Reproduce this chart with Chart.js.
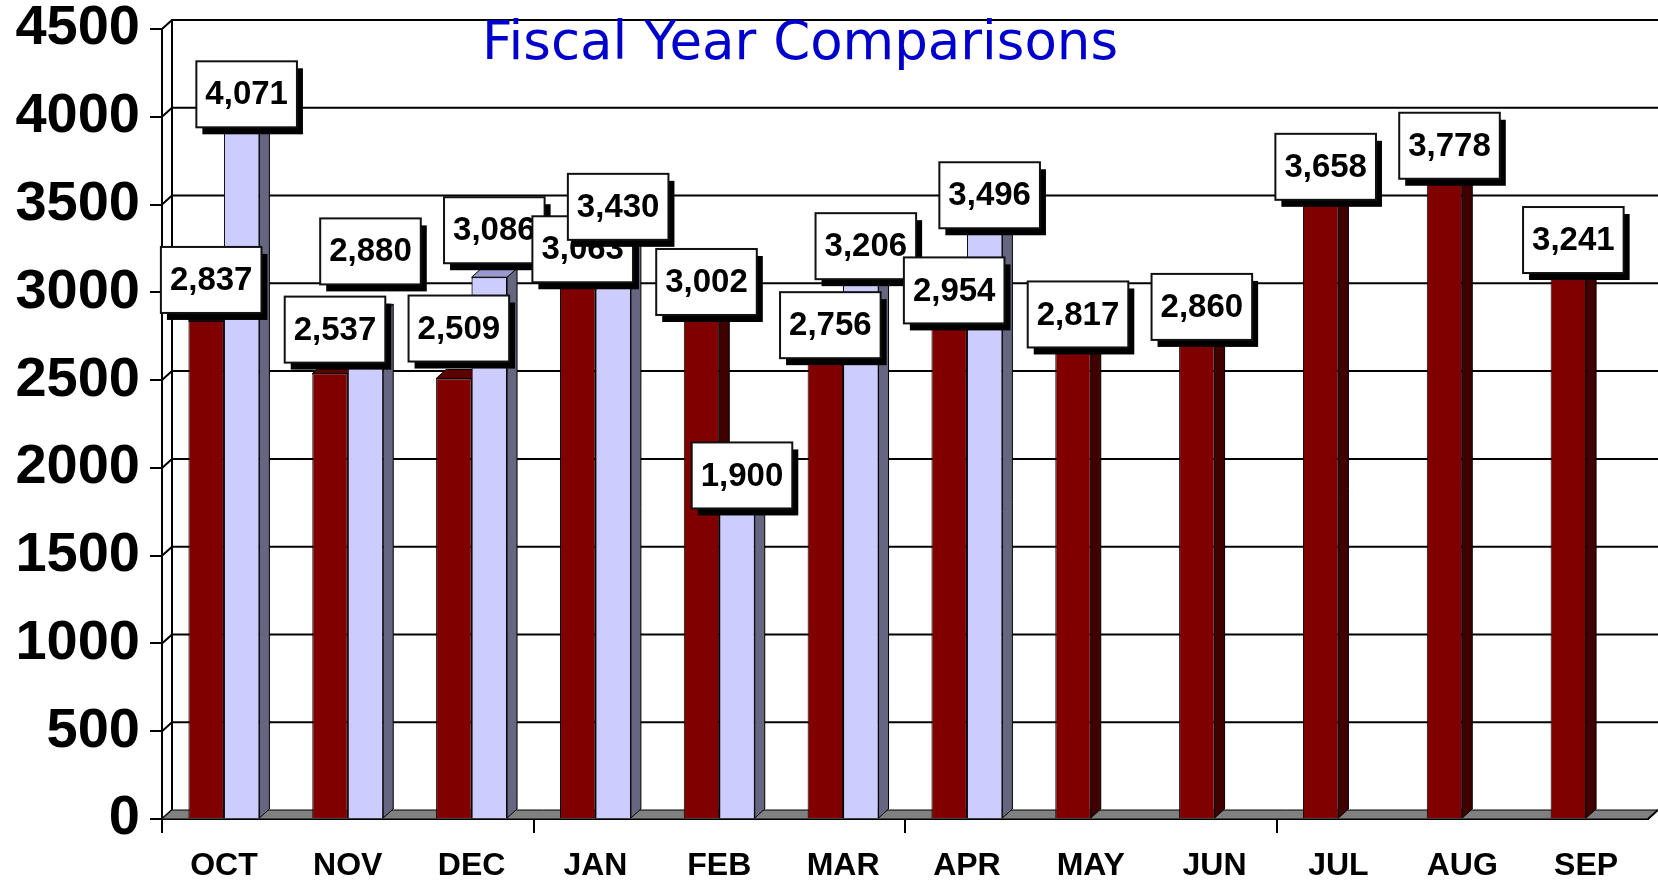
<!DOCTYPE html>
<html>
<head>
<meta charset="utf-8">
<title>Fiscal Year Comparisons</title>
<script src="https://cdn.jsdelivr.net/npm/chart.js@4.4.1/dist/chart.umd.min.js"></script>
<style>
  html, body { margin: 0; padding: 0; background: #fff; }
  canvas { display: block; }
</style>
</head>
<body>
<canvas id="fyChart" width="1658" height="880"></canvas>
<script>
// chart data
const months = ['OCT', 'NOV', 'DEC', 'JAN', 'FEB', 'MAR', 'APR', 'MAY', 'JUN', 'JUL', 'AUG', 'SEP'];
const priorYear = [2837, 2537, 2509, 3063, 3002, 2756, 2954, 2817, 2860, 3658, 3778, 3241];
const currentYear = [4071, 2880, 3086, 3430, 1900, 3206, 3496, null, null, null, null, null];
const yTicks = [0, 500, 1000, 1500, 2000, 2500, 3000, 3500, 4000, 4500];

// a few labels were dragged up by hand in the original (px)
const priorLabelNudge = [-31, -34, -40, -22, 0, 0, 0, 0, 0, 0, 0, 0];
const currentLabelNudge = [0, -52, -37, 0, 0, 0, 0, 0, 0, 0, 0, 0];

const DX = 10, DY = 9; // fake 3d depth
const FONT = "'Liberation Sans', Arial, sans-serif";

function poly(ctx, pts, fill, stroke) {
    ctx.beginPath();
    ctx.moveTo(pts[0][0], pts[0][1]);
    for (let i = 1; i < pts.length; i++) ctx.lineTo(pts[i][0], pts[i][1]);
    ctx.closePath();
    ctx.fillStyle = fill;
    ctx.fill();
    ctx.lineWidth = 1;
    ctx.strokeStyle = stroke;
    ctx.stroke();
}

function faces(ctx, bar, ds) {
    const { x, y, base, width } = bar.getProps(['x', 'y', 'base', 'width'], true);
    const l = x - width / 2, r = x + width / 2;
    poly(ctx, [[r, y], [r + DX, y - DY], [r + DX, base - DY], [r, base]], ds.sideColor, '#000');
    poly(ctx, [[l, y], [l + DX, y - DY], [r + DX, y - DY], [r, y]], ds.topColor, '#000');
}

// back wall, left wall and floor
const wallPlugin = {
    id: 'wall',
    beforeDatasetsDraw(chart) {
        const { ctx, chartArea: a, scales: { y } } = chart;
        ctx.save();
        ctx.strokeStyle = '#000';
        ctx.lineWidth = 2;
        yTicks.forEach(v => {
            const py = y.getPixelForValue(v);
            ctx.beginPath();
            ctx.moveTo(a.left, py);
            ctx.lineTo(a.left + DX, py - DY);
            if (v > 0) ctx.lineTo(chart.width, py - DY);
            ctx.stroke();
        });
        ctx.beginPath();
        ctx.moveTo(a.left + DX, a.top - DY);
        ctx.lineTo(a.left + DX, a.bottom - DY);
        ctx.stroke();
        // floor
        poly(ctx, [[a.left, a.bottom], [a.right, a.bottom], [a.right + DX, a.bottom - DY], [a.left + DX, a.bottom - DY]], '#808080', '#000');
        ctx.lineWidth = 2;
        ctx.beginPath();
        ctx.moveTo(a.right, a.bottom);
        ctx.lineTo(a.right + DX, a.bottom - DY);
        ctx.stroke();
        ctx.restore();
    },
    // chart.js paints dataset 1 first, then dataset 0; once both are down,
    // add the depth faces category by category so the light bar sits beside the dark one
    afterDatasetDraw(chart, args) {
        if (args.index !== 0) return;
        const { ctx } = chart;
        const dark = chart.data.datasets[0], light = chart.data.datasets[1];
        const darkMeta = chart.getDatasetMeta(0), lightMeta = chart.getDatasetMeta(1);
        ctx.save();
        months.forEach((m, i) => {
            if (dark.data[i] != null) faces(ctx, darkMeta.data[i], dark);
            if (light.data[i] != null) {
                lightMeta.data[i].draw(ctx);
                faces(ctx, lightMeta.data[i], light);
            }
        });
        ctx.restore();
    },
    afterDatasetsDraw(chart) {
        const { ctx } = chart;
        ctx.save();
        ctx.font = 'bold 33px ' + FONT;
        ctx.textAlign = 'center';
        ctx.textBaseline = 'middle';
        months.forEach((m, i) => {
            [0, 1].forEach(d => {
                const ds = chart.data.datasets[d];
                const v = ds.data[i];
                if (v == null) return;
                const bar = chart.getDatasetMeta(d).data[i];
                const cx = bar.x + 5;
                const cy = bar.y - 10 + ds.nudge[i];
                const txt = v.toLocaleString('en-US');
                const bw = ctx.measureText(txt).width + 18, bh = 66;
                ctx.fillStyle = '#000';
                ctx.fillRect(cx - bw / 2 + 6, cy - bh / 2 + 7, bw, bh);
                ctx.fillStyle = '#fff';
                ctx.fillRect(cx - bw / 2, cy - bh / 2, bw, bh);
                ctx.lineWidth = 2;
                ctx.strokeStyle = '#111';
                ctx.strokeRect(cx - bw / 2, cy - bh / 2, bw, bh);
                ctx.fillStyle = '#000';
                ctx.fillText(txt, cx, cy + 1);
            });
        });
        ctx.restore();
    },
    afterDraw(chart) {
        const { ctx } = chart;
        ctx.save();
        ctx.font = "53px 'DejaVu Sans', sans-serif";
        ctx.fillStyle = '#0000CC';
        ctx.textAlign = 'center';
        ctx.textBaseline = 'alphabetic';
        ctx.fillText('Fiscal Year Comparisons', 800, 59);
        ctx.restore();
    }
};

const ctx = document.getElementById('fyChart').getContext('2d');
new Chart(ctx, {
    type: 'bar',
    data: {
        labels: months,
        datasets: [{
            label: 'Prior FY',
            data: priorYear,
            backgroundColor: '#800000',
            sideColor: '#400000',
            topColor: '#5c0000',
            nudge: priorLabelNudge,
            borderColor: '#000',
            borderWidth: 1
        }, {
            label: 'Current FY',
            data: currentYear,
            backgroundColor: '#CCCCFF',
            sideColor: '#666680',
            topColor: '#9999CC',
            nudge: currentLabelNudge,
            borderColor: '#000',
            borderWidth: 1
        }]
    },
    options: {
        responsive: false,
        animation: false,
        categoryPercentage: 0.573,
        barPercentage: 1,
        layout: { padding: { top: 29, right: 10, left: 0, bottom: 0 } },
        plugins: {
            legend: { display: false },
            tooltip: { enabled: false },
            title: { display: false }
        },
        scales: {
            x: {
                grid: {
                    drawOnChartArea: false,
                    tickLength: 14,
                    lineWidth: 2,
                    color: c => (c.index % 3 === 0 ? '#000' : 'rgba(0,0,0,0)')
                },
                border: { color: '#000', width: 2 },
                ticks: { color: '#000', padding: 14, font: { family: FONT, size: 32, weight: 'bold' } },
                afterFit: s => { s.height = 61; }
            },
            y: {
                min: 0,
                max: 4500,
                afterBuildTicks: s => { s.ticks = yTicks.map(v => ({ value: v })); },
                grid: { drawOnChartArea: false, tickLength: 12, lineWidth: 2, color: '#000' },
                border: { color: '#000', width: 2 },
                ticks: {
                    color: '#000',
                    padding: 10,
                    callback: v => String(v),
                    // small line height so the top label doesn't push the plot down
                    font: { family: FONT, size: 56, weight: 'bold', lineHeight: 0.6 }
                },
                afterFit: s => { s.width = 162; }
            }
        }
    },
    plugins: [wallPlugin]
});
</script>
</body>
</html>
